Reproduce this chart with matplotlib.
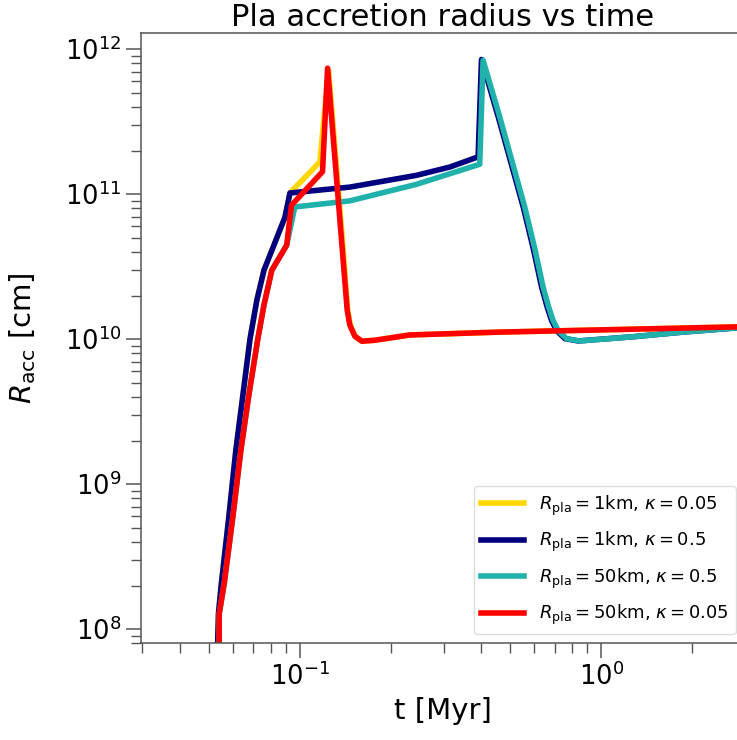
import matplotlib
matplotlib.use("Agg")
import matplotlib.pyplot as plt

# Accretion radius of the planetesimal (cm) versus time (Myr)
t_1km_k005 = [0.0530, 0.0537, 0.0549, 0.0581, 0.0613, 0.0647, 0.0683, 0.0720,
              0.0760, 0.0820, 0.0892, 0.0927, 0.1165, 0.1245, 0.1385, 0.1440,
              0.1470, 0.1525, 0.1606, 0.1773, 0.2316, 0.4606, 1.0, 3.0]
R_1km_k005 = [5e7, 1.29e8, 2.07e8, 5.92e8, 1.71e9, 4.11e9, 1.0e10, 1.86e10,
              2.99e10, 4.45e10, 6.93e10, 1.02e11, 1.67e11, 7.2e11, 4.8e10, 1.6e10,
              1.26e10, 1.05e10, 9.7e9, 9.84e9, 1.07e10, 1.12e10, 1.16e10, 1.22e10]

t_1km_k05 = [0.0530, 0.0537, 0.0549, 0.0581, 0.0613, 0.0647, 0.0683, 0.0720,
             0.0760, 0.0820, 0.0892, 0.0927, 0.1465, 0.2438, 0.3145, 0.3904,
             0.4006, 0.4554, 0.5511, 0.5948, 0.6339, 0.6621, 0.6842, 0.7107,
             0.7580, 0.8389, 1.275, 1.867, 3.0]
R_1km_k05 = [5e7, 1.29e8, 2.07e8, 5.92e8, 1.71e9, 4.11e9, 1.0e10, 1.86e10,
             2.99e10, 4.45e10, 6.93e10, 1.02e11, 1.12e11, 1.35e11, 1.54e11, 1.81e11,
             8.5e11, 3.41e11, 8.17e10, 4.24e10, 2.30e10, 1.66e10, 1.35e10, 1.15e10,
             1.01e10, 9.73e9, 1.04e10, 1.12e10, 1.21e10]

t_50km_k05 = [0.0539, 0.0540, 0.0561, 0.0599, 0.0637, 0.0677, 0.0725, 0.0760,
              0.0807, 0.0904, 0.0962, 0.1465, 0.2438, 0.3953, 0.4055, 0.4606,
              0.5574, 0.6017, 0.6412, 0.6697, 0.6921, 0.7189, 0.7667, 0.8486,
              1.275, 1.867, 3.0]
R_50km_k05 = [3e7, 1.28e8, 2.07e8, 5.92e8, 1.71e9, 4.11e9, 1.0e10, 1.72e10,
              2.99e10, 4.45e10, 8.17e10, 9.0e10, 1.17e11, 1.61e11, 8.4e11, 3.41e11,
              8.17e10, 4.24e10, 2.30e10, 1.66e10, 1.35e10, 1.15e10, 1.01e10, 9.73e9,
              1.04e10, 1.12e10, 1.21e10]

t_50km_k005 = [0.0539, 0.0540, 0.0561, 0.0599, 0.0637, 0.0677, 0.0725, 0.0760,
               0.0807, 0.0904, 0.0938, 0.1189, 0.1236, 0.1375, 0.1436, 0.1465,
               0.1522, 0.1606, 0.1773, 0.2316, 0.4606, 1.0, 3.0]
R_50km_k005 = [3e7, 1.28e8, 2.07e8, 5.92e8, 1.71e9, 4.11e9, 1.0e10, 1.72e10,
               2.99e10, 4.45e10, 8.4e10, 1.43e11, 7.4e11, 4.81e10, 1.585e10, 1.25e10,
               1.05e10, 9.69e9, 9.84e9, 1.07e10, 1.12e10, 1.16e10, 1.22e10]

labels = [r"$R_{\rm pla} = 1$km, $\kappa = 0.05$",
          r"$R_{\rm pla} = 1$km, $\kappa = 0.5$",
          r"$R_{\rm pla} = 50$km, $\kappa = 0.5$",
          r"$R_{\rm pla} = 50$km, $\kappa = 0.05$"]
colors = ["gold", "navy", "lightseagreen", "red"]

series = [(t_1km_k005, R_1km_k005), (t_1km_k05, R_1km_k05),
          (t_50km_k05, R_50km_k05), (t_50km_k005, R_50km_k005)]

fig = plt.figure(figsize=(7.37, 7.40), dpi=100)
ax = fig.add_axes([0.1913, 0.1307, 0.8195, 0.8251])

for (t, R), lab, c in zip(series, labels, colors):
    ax.plot(t, R, color=c, lw=4, label=lab, solid_joinstyle="round")

ax.set_xscale("log")
ax.set_yscale("log")
ax.set_xlim(0.0297, 3.0)
ax.set_ylim(8e7, 1.3e12)

ax.set_title("Pla accretion radius vs time", fontsize=22, pad=5)
ax.set_xlabel("t [Myr]", fontsize=21)
ax.set_ylabel(r"$R_{\rm acc}$ [cm]", fontsize=21)
ax.xaxis.set_label_coords(0.5, -0.088)
ax.yaxis.set_label_coords(-0.170, 0.5)

ax.tick_params(which="major", length=10.5, width=1.1, color="#555555",
               labelsize=18.5, direction="out")
ax.tick_params(which="minor", length=7.5, width=1.0, color="#555555",
               direction="out")
for s in ax.spines.values():
    s.set_color("#555555")
    s.set_linewidth(1.1)

leg = ax.legend(loc="lower right", fontsize=13, handlelength=2.4,
                labelspacing=0.68, framealpha=1.0, edgecolor="#dddddd")

fig.savefig("out.png", dpi=100)
